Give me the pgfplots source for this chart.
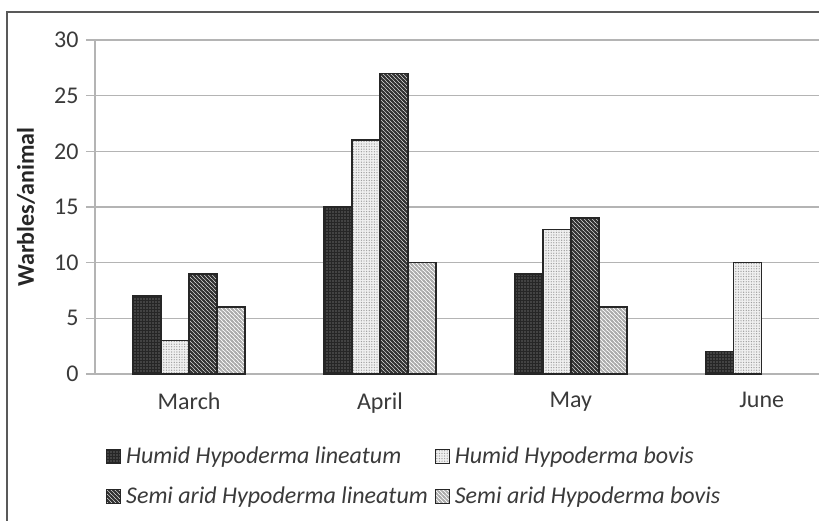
\documentclass[border=0pt]{standalone}
\usepackage{pgfplots}
\pgfplotsset{compat=1.18}
\usetikzlibrary{patterns,patterns.meta}
\usepackage{fontspec}
\setmainfont{Carlito}
\definecolor{txt}{HTML}{3A3A3A}
\definecolor{gridc}{HTML}{B4B4B4}
\definecolor{edge}{HTML}{262626}
\pgfdeclarepatternformonly{thicknw}{\pgfqpoint{-1bp}{-1bp}}{\pgfqpoint{5bp}{5bp}}{\pgfqpoint{4bp}{4bp}}{%
  \pgfsetlinewidth{1.9bp}%
  \pgfpathmoveto{\pgfqpoint{-1bp}{5bp}}\pgfpathlineto{\pgfqpoint{5bp}{-1bp}}%
  \pgfpathmoveto{\pgfqpoint{-1bp}{1bp}}\pgfpathlineto{\pgfqpoint{1bp}{-1bp}}%
  \pgfpathmoveto{\pgfqpoint{3bp}{5bp}}\pgfpathlineto{\pgfqpoint{5bp}{3bp}}%
  \pgfusepath{stroke}}
\pgfdeclarepatternformonly{thinnw}{\pgfqpoint{-1bp}{-1bp}}{\pgfqpoint{5bp}{5bp}}{\pgfqpoint{4bp}{4bp}}{%
  \pgfsetlinewidth{1.5bp}%
  \pgfpathmoveto{\pgfqpoint{-1bp}{5bp}}\pgfpathlineto{\pgfqpoint{5bp}{-1bp}}%
  \pgfpathmoveto{\pgfqpoint{-1bp}{1bp}}\pgfpathlineto{\pgfqpoint{1bp}{-1bp}}%
  \pgfpathmoveto{\pgfqpoint{3bp}{5bp}}\pgfpathlineto{\pgfqpoint{5bp}{3bp}}%
  \pgfusepath{stroke}}
\begin{document}
\begin{tikzpicture}
\useasboundingbox (-95bp,-147bp) rectangle (724bp,374bp);
\draw[black!65, line width=1.2bp] (-88bp,-160bp) -- (-88bp,362bp) -- (740bp,362bp);
\begin{axis}[
  at={(0bp,0bp)}, anchor=south west,
  width=724bp, height=334bp, scale only axis,
  xmin=-0.493, xmax=3.30, ymin=0, ymax=30,
  ybar=0pt, bar width=28bp,
  xtick={0,1,2,3}, xticklabels={March,April,May,June},
  ytick={0,5,...,30},
  ymajorgrids, grid style={gridc, line width=1.2bp},
  axis x line*=bottom, axis y line*=left,
  axis line style={gridc, line width=1.2bp, -},
  xtick style={draw=none},
  ytick style={gridc, line width=1.2bp},
  tick align=outside, major tick length=9bp,
  /pgf/number format/assume math mode=true,
  tick label style={font=\fontsize{24bp}{28bp}\selectfont, text=txt},
  xticklabel style={yshift=-6bp},
  yticklabel style={xshift=-4bp},
  ylabel={Warbles/animal},
  ylabel style={font=\bfseries\fontsize{24bp}{28bp}\selectfont, text=black!85, at={(axis description cs:-0.0953,0.5)}, anchor=center},
  legend columns=2,
  legend cell align=left,
  legend style={draw=none, fill=none, at={(0,0)}, anchor=north west, xshift=8bp, yshift=-69bp,
    font=\itshape\fontsize{24bp}{28bp}\selectfont, text=txt,
    /tikz/every odd column/.append style={column sep=3bp},
    /tikz/every even column/.append style={column sep=5bp}, row sep=18bp},
  legend image code/.code={\draw[#1, draw=edge, line width=1bp] (0bp,-7bp) rectangle (14bp,7bp);},
  every axis plot/.append style={draw=edge, line width=1.5bp},
]
\addplot[preaction={fill=black!85}, pattern={Dots[distance=3bp, radius=0.6bp]}, pattern color=gray!70]
  coordinates {(0,7) (1,15) (2,9) (3,2)};
\addplot[preaction={fill=gray!12}, pattern={Dots[distance=2.6bp, radius=0.7bp]}, pattern color=gray!75]
  coordinates {(0,3) (1,21) (2,13) (3,10)};
\addplot[preaction={fill=white}, pattern=thicknw, pattern color=black!80]
  coordinates {(0,9) (1,27) (2,14)};
\addplot[preaction={fill=white}, pattern=thinnw, pattern color=gray!65]
  coordinates {(0,6) (1,10) (2,6)};
\legend{Humid Hypoderma lineatum, Humid Hypoderma bovis, Semi arid Hypoderma lineatum, Semi arid Hypoderma bovis}
\end{axis}
\end{tikzpicture}
\end{document}
